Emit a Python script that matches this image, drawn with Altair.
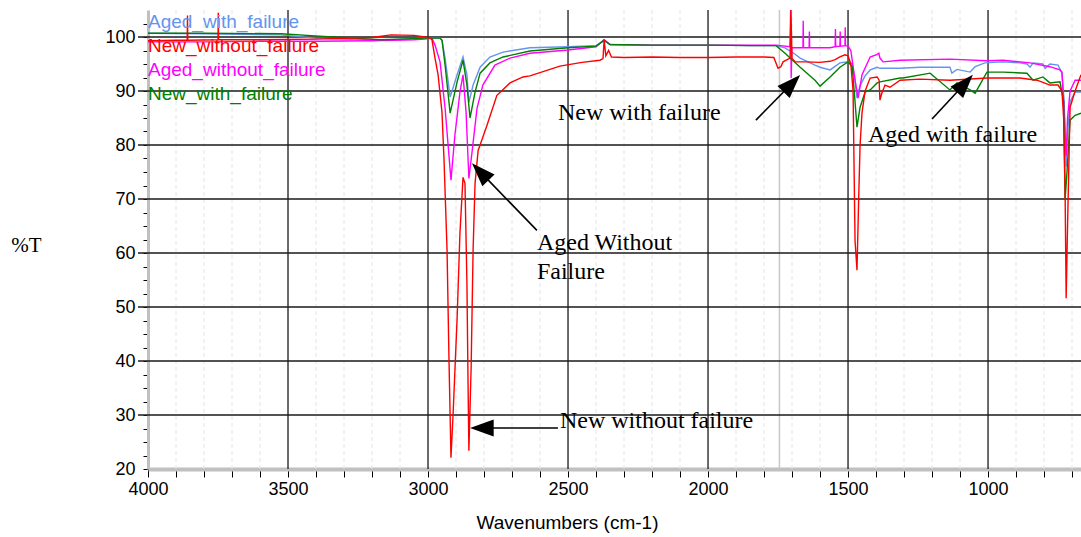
import math
import altair as alt
import pandas as pd

# ---------------- geometry of the plot area ----------------
W, H = 933, 459
X_MIN, X_MAX = 668, 4000
Y_MIN, Y_MAX = 20, 105

series_names = ["Aged_with_failure", "New_without_failure", "Aged_without_failure", "New_with_failure"]
series_colors = ["#6495ED", "#FF0000", "#FF00FF", "#008000"]

# ---------------- spectra (wavenumber, %T) ----------------
aged_with_failure = [
    (4000, 100.7), (3800, 100.6), (3525, 100.4), (3403, 99.8), (3168, 99.4), (3050, 99.7),
    (3011, 99.8), (2957, 99.8), (2950, 99.4), (2939, 96.1), (2921, 88.9), (2896, 93.0),
    (2875, 96.3), (2861, 93.0), (2854, 87.9), (2839, 91.1), (2814, 94.4), (2779, 96.3),
    (2732, 97.2), (2636, 98.0), (2500, 98.2), (2400, 98.4), (2371, 99.3), (2350, 98.6),
    (2200, 98.5), (2000, 98.5), (1850, 98.4), (1757, 98.4), (1725, 98.0), (1689, 96.8),
    (1671, 96.1), (1618, 94.8), (1600, 94.4), (1564, 93.9), (1529, 95.2), (1500, 95.4),
    (1485, 95.0), (1475, 92.0), (1468, 88.7), (1457, 91.0), (1439, 92.8), (1421, 93.9),
    (1396, 94.4), (1386, 94.2), (1314, 94.2), (1243, 94.4), (1136, 94.4), (1129, 93.3),
    (1111, 94.0), (1064, 93.5), (1046, 94.5), (1011, 95.2), (946, 95.4), (886, 95.2),
    (861, 95.0), (850, 94.4), (839, 95.2), (804, 95.0), (796, 94.2), (779, 95.0),
    (750, 94.8), (736, 93.3), (728, 88.0), (721, 76.0), (716, 82.0), (707, 88.0),
    (689, 89.8), (668, 89.8),
]

new_without_failure = [
    (4000, 99.3), (3900, 99.4), (3860, 99.4), (3859, 104.0), (3858, 99.4), (3750, 99.5),
    (3749, 104.5), (3748, 99.5), (3600, 99.5), (3400, 99.6), (3200, 99.9), (3132, 100.4),
    (3050, 100.3), (3011, 100.0), (2993, 99.8), (2986, 99.5), (2975, 96.1), (2964, 93.0),
    (2950, 86.0), (2943, 77.5), (2932, 60.5), (2925, 40.0), (2918, 22.1), (2911, 29.5),
    (2896, 48.0), (2886, 63.6), (2875, 74.0), (2868, 72.9), (2861, 54.3), (2857, 35.8),
    (2854, 23.4), (2846, 38.8), (2839, 60.5), (2832, 72.9), (2821, 79.0), (2814, 80.0),
    (2789, 83.7), (2754, 89.2), (2707, 91.5), (2661, 92.6), (2636, 92.8), (2529, 94.6),
    (2450, 95.3), (2386, 95.7), (2375, 96.0), (2371, 99.5), (2365, 96.5), (2355, 97.5),
    (2345, 96.3), (2300, 96.2), (2200, 96.3), (2100, 96.2), (2000, 96.2), (1900, 96.3),
    (1800, 96.3), (1765, 96.2), (1750, 94.2), (1740, 94.5), (1732, 95.4), (1707, 96.1),
    (1704, 105.0), (1700, 96.0), (1689, 95.4), (1650, 95.4), (1600, 95.3), (1564, 95.5),
    (1546, 95.8), (1529, 96.3), (1511, 96.7), (1500, 96.5), (1490, 95.0), (1482, 90.0),
    (1475, 62.3), (1468, 56.8), (1462, 70.0), (1457, 80.0), (1450, 86.0), (1439, 90.0),
    (1421, 92.4), (1396, 92.6), (1389, 92.0), (1386, 88.3), (1380, 89.5), (1368, 91.1),
    (1350, 90.7), (1314, 92.0), (1243, 92.2), (1136, 92.0), (1004, 92.4), (886, 92.4),
    (825, 92.0), (779, 91.1), (750, 91.1), (736, 90.0), (730, 85.0), (725, 72.5),
    (721, 51.6), (716, 65.0), (707, 87.0), (689, 90.0), (668, 93.0),
]

aged_without_failure = [
    (4000, 99.1), (3800, 99.1), (3600, 99.2), (3400, 99.2), (3200, 99.3), (3050, 99.5),
    (3011, 99.6), (2986, 99.8), (2975, 98.5), (2957, 95.4), (2939, 86.8), (2918, 73.5),
    (2904, 81.8), (2886, 89.8), (2875, 93.0), (2864, 86.0), (2854, 73.8), (2843, 78.6),
    (2825, 86.8), (2804, 91.1), (2761, 94.8), (2707, 96.1), (2636, 97.0), (2500, 97.6),
    (2400, 98.2), (2371, 99.5), (2350, 98.6), (2200, 98.5), (2000, 98.5), (1850, 98.5),
    (1757, 98.5), (1707, 98.2), (1705, 105.0), (1703, 92.4), (1701, 98.0), (1661, 98.0),
    (1660, 103.0), (1659, 98.0), (1639, 98.0), (1638, 101.0), (1637, 98.0), (1600, 98.0),
    (1564, 98.0), (1546, 98.2), (1545, 101.5), (1544, 98.2), (1529, 98.3), (1528, 101.0),
    (1527, 98.3), (1511, 98.4), (1510, 101.8), (1509, 98.4), (1500, 98.3), (1490, 97.5),
    (1475, 92.0), (1464, 88.7), (1450, 93.0), (1421, 96.3), (1396, 96.8), (1390, 97.0),
    (1386, 96.1), (1375, 95.4), (1314, 95.7), (1136, 95.9), (1004, 95.6), (946, 95.7),
    (850, 95.2), (779, 94.5), (743, 93.9), (736, 93.5), (728, 86.0), (721, 78.0),
    (716, 85.0), (707, 90.0), (689, 92.0), (668, 92.0),
]

new_with_failure = [
    (4000, 100.7), (3800, 100.7), (3525, 100.6), (3403, 100.2), (3168, 99.5), (3050, 99.7),
    (3011, 99.8), (2957, 99.8), (2950, 99.4), (2939, 94.8), (2921, 85.9), (2896, 91.7),
    (2875, 95.7), (2861, 91.1), (2850, 85.0), (2832, 89.8), (2814, 93.3), (2779, 95.2),
    (2732, 96.3), (2636, 97.4), (2500, 98.0), (2400, 98.3), (2371, 99.4), (2350, 98.6),
    (2200, 98.5), (2000, 98.5), (1850, 98.4), (1757, 98.4), (1725, 97.0), (1671, 94.4),
    (1618, 92.0), (1600, 90.9), (1564, 92.6), (1529, 94.4), (1500, 95.4), (1485, 94.5),
    (1475, 88.0), (1468, 83.3), (1457, 87.0), (1439, 89.8), (1421, 90.2), (1396, 91.5),
    (1386, 91.7), (1314, 92.4), (1304, 92.4), (1207, 93.3), (1136, 90.2), (1111, 91.5),
    (1064, 90.2), (1046, 89.6), (1004, 93.5), (946, 93.5), (861, 93.3), (839, 92.0),
    (804, 92.6), (779, 91.5), (743, 91.7), (730, 88.0), (725, 69.8), (718, 75.0),
    (707, 84.6), (689, 85.5), (668, 85.9),
]

series_points = [aged_with_failure, new_without_failure, aged_without_failure, new_with_failure]
draw_order = ["Aged_with_failure", "Aged_without_failure", "New_with_failure", "New_without_failure"]

# legend text rows (%T position of each label)
legend_y = [102.8, 98.3, 93.9, 89.4]

# annotations: text (label, wn, %T)
note_labels = ["New with failure", "Aged with failure", "Aged Without", "Failure", "New without failure"]
note_wn = [2536, 1429, 2611, 2611, 2529]
note_t = [85.9, 81.8, 61.8, 56.4, 28.9]

# arrows: tail (wn, T) -> tip (wn, T)
arrow_tail_wn = [1829, 1200, 2611, 2536]
arrow_tail_t = [84.6, 84.8, 64.2, 27.6]
arrow_tip_wn = [1671, 1054, 2843, 2850]
arrow_tip_t = [92.95, 93.0, 76.6, 27.6]

x_ticks = list(range(700, 4001, 100))
x_major = [1000, 1500, 2000, 2500, 3000, 3500]
x_minor = [v for v in range(700, 4000, 100) if v % 500 != 0]
y_ticks = [20 + 2.5 * k for k in range(34)]
y_major = [30, 40, 50, 60, 70, 80, 90, 100]
marker_line = [1745]

# ---------------- data frames ----------------
rows = []
for name, pts in zip(series_names, series_points):
    for i, (w, t) in enumerate(pts):
        rows.append({"series": name, "wn": w, "T": t, "i": i})
df = pd.DataFrame(rows)

x_scale = alt.Scale(domain=[X_MIN, X_MAX], reverse=True, nice=False, zero=False)
y_scale = alt.Scale(domain=[Y_MIN, Y_MAX], nice=False, zero=False)
color_scale = alt.Scale(domain=series_names, range=series_colors)

SANS = "Liberation Sans"
SERIF = "Liberation Serif"

x_axis = alt.Axis(
    values=x_ticks, labelExpr="datum.value % 500 === 0 ? datum.value : ''",
    grid=False, tickSize=8, tickColor="#000000", tickWidth=1,
    domainColor="#C0C0C0", domainWidth=4, labelFont=SANS, labelFontSize=18,
    labelColor="#000000", labelPadding=3, labelOverlap=False, labelFlush=False,
    title="Wavenumbers (cm-1)", titleFont=SANS, titleFontSize=19, titleFontWeight="normal",
    titleColor="#000000", titleX=419, titleY=53, titleAnchor="start", titleAlign="center",
    titleBaseline="middle",
)
y_axis = alt.Axis(
    values=y_ticks, labelExpr="datum.value % 10 === 0 ? datum.value : ''",
    grid=False, tickSize=5, tickColor="#000000", tickWidth=1,
    domainColor="#C0C0C0", domainWidth=3, labelFont=SANS, labelFontSize=18,
    labelColor="#000000", labelPadding=8, labelOverlap=False, labelFlush=False,
    title="%T", titleFont=SERIF, titleFontSize=21, titleFontWeight="normal",
    titleColor="#000000", titleAngle=0, titleX=-122, titleY=235, titleAlign="center",
    titleBaseline="middle", titleAnchor="start",
)


def X(field="wn"):
    return alt.X(f"{field}:Q", scale=x_scale, axis=x_axis)


def Y(field="T"):
    return alt.Y(f"{field}:Q", scale=y_scale, axis=y_axis)


minor_grid = alt.Chart(pd.DataFrame({"wn": x_minor})).mark_rule(
    color="#E4E4E4", strokeWidth=1, strokeDash=[4, 3]
).encode(x=X())

marker_rule = alt.Chart(pd.DataFrame({"wn": marker_line})).mark_rule(
    color="#C8C8C8", strokeWidth=1.5
).encode(x=X())

major_vgrid = alt.Chart(pd.DataFrame({"wn": x_major})).mark_rule(
    color="#1A1A1A", strokeWidth=1.3
).encode(x=X())

major_hgrid = alt.Chart(pd.DataFrame({"T": y_major})).mark_rule(
    color="#1A1A1A", strokeWidth=1.3
).encode(y=Y(), x=alt.value(-10), x2=alt.value(W))

line_layers = []
for name in draw_order:
    line_layers.append(
        alt.Chart(df[df["series"] == name]).mark_line(strokeWidth=1.4, clip=True).encode(
            x=X(), y=Y(),
            color=alt.Color("series:N", scale=color_scale, legend=None),
            order=alt.Order("i:Q"),
        )
    )

legend_df = pd.DataFrame({"series": series_names, "wn": [X_MAX] * 4, "T": legend_y})
legend_layer = alt.Chart(legend_df).mark_text(
    align="left", baseline="middle", font=SANS, fontSize=19
).encode(
    x=X(), y=Y(), text="series:N",
    color=alt.Color("series:N", scale=color_scale, legend=None),
)

notes_df = pd.DataFrame({"label": note_labels, "wn": note_wn, "T": note_t})
notes_layer = alt.Chart(notes_df).mark_text(
    align="left", baseline="middle", font=SERIF, fontSize=24, color="#000000"
).encode(x=X(), y=Y(), text="label:N")

# arrows: head placement computed in screen space from the scales' ratios
px_wn = W / (X_MAX - X_MIN)
px_t = H / (Y_MAX - Y_MIN)
HEAD_SIZE = 560
r = math.sqrt(HEAD_SIZE) / 2
shaft_rows, head_rows = [], []
for w0, t0, w1, t1 in zip(arrow_tail_wn, arrow_tail_t, arrow_tip_wn, arrow_tip_t):
    sx0, sy0 = (X_MAX - w0) * px_wn, (Y_MAX - t0) * px_t
    sx1, sy1 = (X_MAX - w1) * px_wn, (Y_MAX - t1) * px_t
    dx, dy = sx1 - sx0, sy1 - sy0
    L = math.hypot(dx, dy)
    ux, uy = dx / L, dy / L
    hx, hy = sx1 - ux * r, sy1 - uy * r
    bx, by = sx1 - ux * (2 * r - 2), sy1 - uy * (2 * r - 2)
    ang = math.degrees(math.atan2(ux, -uy)) % 360
    shaft_rows.append({"wn": w0, "T": t0, "wn2": X_MAX - bx / px_wn, "T2": Y_MAX - by / px_t})
    head_rows.append({"wn": X_MAX - hx / px_wn, "T": Y_MAX - hy / px_t, "ang": ang})

shaft_layer = alt.Chart(pd.DataFrame(shaft_rows)).mark_rule(color="#000000", strokeWidth=1.6).encode(
    x=X(), x2="wn2:Q", y=Y(), y2="T2:Q",
)
head_layer = alt.Chart(pd.DataFrame(head_rows)).mark_point(
    shape="M0,-1L0.72,1L-0.72,1Z", filled=True, color="#000000", opacity=1, size=HEAD_SIZE, strokeWidth=0
).encode(
    x=X(), y=Y(),
    angle=alt.Angle("ang:Q", scale=None),
)

chart = alt.layer(
    minor_grid, marker_rule, major_vgrid, major_hgrid,
    *line_layers, legend_layer, notes_layer, shaft_layer, head_layer,
).properties(
    width=W, height=H,
    padding={"left": 148, "top": 10, "right": 0, "bottom": 68},
    autosize=alt.AutoSizeParams(type="none"),
    background="#FFFFFF",
).configure_view(stroke=None)

chart.save("out.html", embed_options={"renderer": "svg", "actions": False})
